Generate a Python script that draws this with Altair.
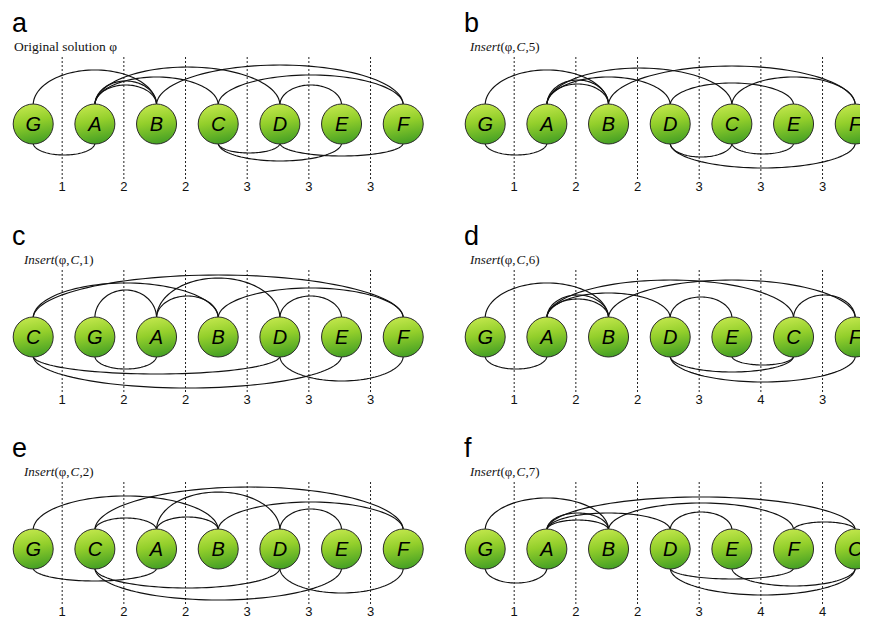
import altair as alt
import pandas as pd

# ---------------- data ----------------
panels = ["a", "b", "c", "d", "e", "f"]

orders = {
    "a": ["G", "A", "B", "C", "D", "E", "F"],
    "b": ["G", "A", "B", "D", "C", "E", "F"],
    "c": ["C", "G", "A", "B", "D", "E", "F"],
    "d": ["G", "A", "B", "D", "E", "C", "F"],
    "e": ["G", "C", "A", "B", "D", "E", "F"],
    "f": ["G", "A", "B", "D", "E", "F", "C"],
}

cut_values = {
    "a": [1, 2, 2, 3, 3, 3],
    "b": [1, 2, 2, 3, 3, 3],
    "c": [1, 2, 2, 3, 3, 3],
    "d": [1, 2, 2, 3, 4, 3],
    "e": [1, 2, 2, 3, 3, 3],
    "f": [1, 2, 2, 3, 4, 4],
}

insert_position = {"b": "5", "c": "1", "d": "6", "e": "2", "f": "7"}

# arcs: (node, node, rise above/below the node)
top_arcs = {
    "a": [("G", "B", 35), ("A", "B", 20), ("A", "B", 24), ("A", "C", 28), ("A", "D", 38),
          ("B", "F", 40), ("C", "F", 30), ("D", "E", 20)],
    "b": [("G", "B", 35), ("A", "B", 21), ("A", "B", 25), ("A", "D", 28), ("A", "C", 37),
          ("B", "F", 39), ("D", "E", 22), ("C", "F", 28)],
    "c": [("C", "F", 43), ("C", "B", 35), ("G", "A", 28), ("A", "D", 40), ("A", "B", 22),
          ("B", "F", 30), ("D", "E", 22)],
    "d": [("G", "B", 35), ("A", "B", 19), ("A", "B", 23), ("A", "D", 25), ("A", "C", 38),
          ("B", "F", 38), ("D", "E", 21), ("C", "F", 23)],
    "e": [("G", "B", 34), ("C", "A", 12), ("C", "F", 43), ("A", "D", 38), ("A", "B", 13),
          ("B", "F", 28), ("D", "E", 21)],
    "f": [("G", "B", 32), ("A", "B", 10), ("A", "B", 17), ("A", "D", 17), ("A", "C", 33),
          ("B", "F", 27), ("D", "E", 18), ("F", "C", 8)],
}
bottom_arcs = {
    "a": [("G", "A", 12), ("C", "D", 10), ("C", "E", 18), ("D", "F", 13)],
    "b": [("G", "A", 12), ("D", "C", 14), ("C", "E", 11), ("D", "F", 25)],
    "c": [("G", "A", 13), ("C", "D", 18), ("C", "E", 32), ("D", "F", 25)],
    "d": [("G", "A", 13), ("D", "C", 16), ("E", "C", 9), ("D", "F", 26)],
    "e": [("G", "A", 13), ("C", "D", 20), ("C", "E", 32), ("D", "F", 25)],
    "f": [("G", "A", 15), ("D", "F", 11), ("E", "C", 18), ("D", "C", 27)],
}

# ---------------- layout / style ----------------
STEP = 61.67       # px between node centres
X0 = 25.2          # px from panel left to first node centre
NODE_Y = 116       # node centre, px from panel top
R = 20
LEFT_W, RIGHT_W = 452, 400
ROW_H = [213, 212, 185]

node_fill = alt.LinearGradient(
    gradient="linear", x1=0.3, y1=0, x2=0.5, y2=1,
    stops=[alt.GradientStop(color="#c4e84e", offset=0),
           alt.GradientStop(color="#93cf2b", offset=0.45),
           alt.GradientStop(color="#45a024", offset=1)],
)


def make_panel(p, width, height, sub_x):
    order = orders[p]
    idx = {n: i for i, n in enumerate(order)}
    xs = alt.Scale(domain=[-X0 / STEP, (width - X0) / STEP], nice=False, zero=False)
    ys = alt.Scale(domain=[0, height], reverse=True, nice=False, zero=False)

    nodes = pd.DataFrame({"name": order, "pos": list(range(len(order)))})
    cuts = pd.DataFrame({"pos": [i + 0.5 for i in range(len(order) - 1)],
                         "val": cut_values[p]})
    rows = []
    for k, (u, v, r) in enumerate(top_arcs[p]):
        rows.append({"eid": f"t{k}", "i": idx[u], "j": idx[v], "side": "top", "rise": r})
    for k, (u, v, r) in enumerate(bottom_arcs[p]):
        rows.append({"eid": f"b{k}", "i": idx[u], "j": idx[v], "side": "bottom", "rise": r})
    edges = pd.DataFrame(rows)

    X = lambda f: alt.X(f, scale=xs, axis=None)
    Y = lambda f: alt.Y(f, scale=ys, axis=None)

    dashed = alt.Chart(cuts).transform_calculate(cx="datum.pos - 0.03").mark_rule(
        color="#222222", strokeDash=[2, 2], strokeWidth=1
    ).encode(x=X("cx:Q"), y=alt.value(NODE_Y - 67), y2=alt.value(NODE_Y + 55))

    numbers = alt.Chart(cuts).transform_calculate(cx="datum.pos - 0.03").mark_text(
        font="Liberation Sans", fontSize=13, color="#111111", baseline="middle"
    ).encode(x=X("cx:Q"), y=alt.value(NODE_Y + 63), text="val:N")

    arcs = alt.Chart(edges).transform_calculate(
        s="sequence(0, 61)"
    ).transform_flatten(["s"]).transform_calculate(
        t="datum.s / 60",
        px="datum.i + (datum.j - datum.i) * (1 - cos(PI * datum.t)) / 2",
        py=f"datum.side == 'top' ? {NODE_Y - R + 1} - datum.rise * sin(PI * datum.t)"
           f" : {NODE_Y + R - 1} + datum.rise * sin(PI * datum.t)",
    ).mark_line(color="#111111", strokeWidth=1.15).encode(
        x=X("px:Q"), y=Y("py:Q"), detail="eid:N", order="s:Q"
    )

    circles = alt.Chart(nodes).mark_circle(
        size=(2 * R) ** 2, opacity=1, fill=node_fill, stroke="#2b2b2b",
        strokeWidth=1, clip=True
    ).encode(x=X("pos:Q"), y=alt.value(NODE_Y))

    labels = alt.Chart(nodes).mark_text(
        font="Liberation Sans", fontStyle="italic", fontSize=20, color="#000000",
        baseline="middle", clip=True
    ).encode(x=X("pos:Q"), y=alt.value(NODE_Y + 1), text="name:N")

    letter = alt.Chart(pd.DataFrame({"t": [p]})).mark_text(
        font="Liberation Sans", fontSize=27, align="left", baseline="alphabetic",
        color="#000000"
    ).encode(x=alt.value(4), y=alt.value(NODE_Y - 92), text="t:N")

    layers = [dashed, numbers, arcs, circles, labels, letter]

    if p == "a":
        segs = [("Original solution φ", "normal", 0)]
    else:
        segs = [("Insert", "italic", 0), ("(φ,", "normal", 30.5),
                ("C", "italic", 46.5), (f",{insert_position[p]})", "normal", 55.5)]
    for txt, style, dx in segs:
        layers.append(
            alt.Chart(pd.DataFrame({"t": [txt]})).mark_text(
                font="Liberation Serif", fontSize=13.5 if p == "a" else 13,
                fontStyle=style, align="left", baseline="middle", color="#111111"
            ).encode(x=alt.value(sub_x + dx), y=alt.value(NODE_Y - 77), text="t:N")
        )

    return alt.layer(*layers).properties(width=width, height=height)


rows = []
for r in range(3):
    left, right = panels[2 * r], panels[2 * r + 1]
    sub_left = 6 if left == "a" else 16
    rows.append(alt.hconcat(
        make_panel(left, LEFT_W, ROW_H[r], sub_left),
        make_panel(right, RIGHT_W, ROW_H[r], 10),
        spacing=0))

chart = alt.vconcat(*rows, spacing=0).properties(padding=0).configure_view(stroke=None)

chart.save("out.html", embed_options={"renderer": "svg", "actions": False})
